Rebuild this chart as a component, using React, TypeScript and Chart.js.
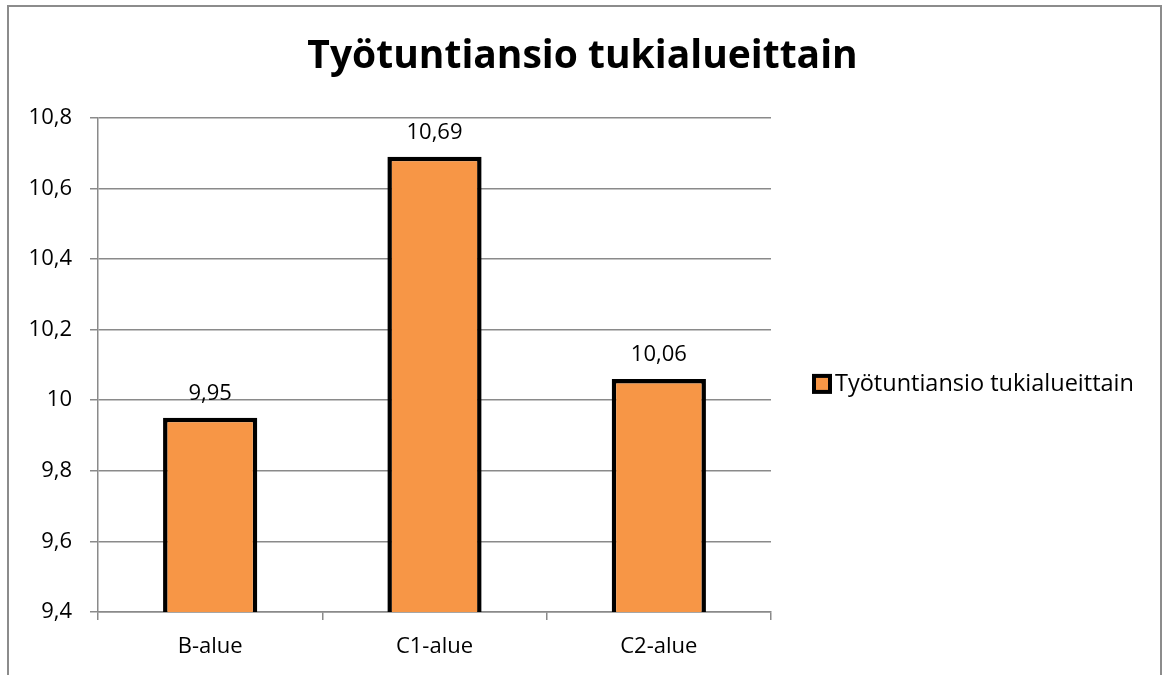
import React, { useEffect, useRef } from "react";
import { Chart, registerables } from "chart.js";

Chart.register(...registerables);

const categories = ["B-alue", "C1-alue", "C2-alue"];
const seriesLabel = "Työtuntiansio tukialueittain";
const seriesValues = [9.95, 10.69, 10.06];
const titleText = "Työtuntiansio tukialueittain";
const yMin = 9.4;
const yMax = 10.8;
const yStep = 0.2;

const FONT = "'Open Sans'";
const TICK_SIZE = 22;
const TITLE_SIZE = 39;
const LEGEND_SIZE = 23.5;

const fmt = (v: number, d: number) =>
  Number(v.toFixed(d)).toString().replace(".", ",");

export default function App() {
  const ref = useRef<HTMLCanvasElement | null>(null);

  useEffect(() => {
    const canvas = ref.current;
    if (!canvas) return;

    const dataLabels = {
      id: "dataLabels",
      afterDatasetsDraw(chart: any) {
        const c = chart.ctx;
        const meta = chart.getDatasetMeta(0);
        c.save();
        c.font = `${TICK_SIZE}px ${FONT}`;
        c.fillStyle = "#000";
        c.textAlign = "center";
        c.textBaseline = "alphabetic";
        meta.data.forEach((el: any, i: number) => {
          c.fillText(fmt(seriesValues[i], 2), el.x, el.y - 18);
        });
        c.restore();
      },
    };

    const sideLegend = {
      id: "sideLegend",
      afterDraw(chart: any) {
        const c = chart.ctx;
        const area = chart.chartArea;
        const ds = chart.data.datasets[0];
        const box = 16;
        const lw = 4;
        const x = area.right + 41 + lw / 2;
        const cy = (area.top + area.bottom) / 2 + 19;
        c.save();
        c.fillStyle = ds.backgroundColor;
        c.fillRect(x, cy - box / 2, box, box);
        c.lineWidth = lw;
        c.strokeStyle = ds.borderColor;
        c.strokeRect(x, cy - box / 2, box, box);
        c.fillStyle = "#000";
        c.font = `${LEGEND_SIZE}px ${FONT}`;
        c.textAlign = "left";
        c.textBaseline = "middle";
        c.fillText(ds.label, x + box + lw / 2 + 3, cy);
        c.restore();
      },
    };

    const chart = new Chart(canvas, {
      type: "bar",
      data: {
        labels: categories,
        datasets: [
          {
            label: seriesLabel,
            data: seriesValues,
            backgroundColor: "#F79646",
            borderColor: "#000000",
            borderWidth: 4.5,
            borderSkipped: false,
            categoryPercentage: 1,
            barPercentage: 0.42,
          },
        ],
      },
      options: {
        responsive: false,
        animation: false,
        devicePixelRatio: 1,
        layout: { padding: { left: 1, right: 0, top: 0, bottom: 0 } },
        plugins: {
          title: {
            display: true,
            text: titleText,
            color: "#000",
            font: { family: FONT, size: TITLE_SIZE, weight: "bold" },
            padding: { top: 33, bottom: 38 },
          },
          legend: { display: false },
          tooltip: { enabled: false },
        },
        scales: {
          x: {
            afterFit(scale: any) {
              scale.height = 63;
            },
            grid: {
              display: true,
              drawOnChartArea: false,
              drawTicks: true,
              tickLength: 8,
              color: "#8a8a8a",
              lineWidth: 1.5,
            },
            border: { display: true, color: "#8a8a8a", width: 1.5 },
            ticks: {
              color: "#000",
              padding: 14,
              font: { family: FONT, size: TICK_SIZE },
            },
          },
          y: {
            min: yMin,
            max: yMax,
            afterFit(scale: any) {
              scale.width = 97;
            },
            ticks: {
              stepSize: yStep,
              color: "#000",
              padding: 18,
              font: { family: FONT, size: TICK_SIZE },
              callback: (v: any) => fmt(Number(v), 1),
            },
            grid: {
              color: "#8a8a8a",
              lineWidth: 1.5,
              tickLength: 8,
              drawTicks: true,
            },
            border: { display: true, color: "#8a8a8a", width: 1.5 },
          },
          yLegendSpace: {
            type: "linear",
            position: "right",
            display: true,
            min: yMin,
            max: yMax,
            afterFit(scale: any) {
              scale.width = 393;
            },
            grid: { display: false },
            border: { display: false },
            ticks: { display: false },
          },
        },
      },
      plugins: [dataLabels, sideLegend],
    });
    return () => chart.destroy();
  }, []);

  return (
    <div
      style={{
        position: "fixed",
        left: 0,
        top: 0,
        width: 1164,
        height: 675,
        overflow: "hidden",
        background: "#fff",
      }}
    >
      <div
        style={{
          position: "absolute",
          left: 7,
          top: 5,
          width: 1151,
          height: 740,
          border: "2px solid #8c8c8c",
        }}
      />
      <canvas
        ref={ref}
        width={1164}
        height={675}
        style={{ position: "absolute", left: 0, top: 0, width: 1164, height: 675 }}
      />
    </div>
  );
}
